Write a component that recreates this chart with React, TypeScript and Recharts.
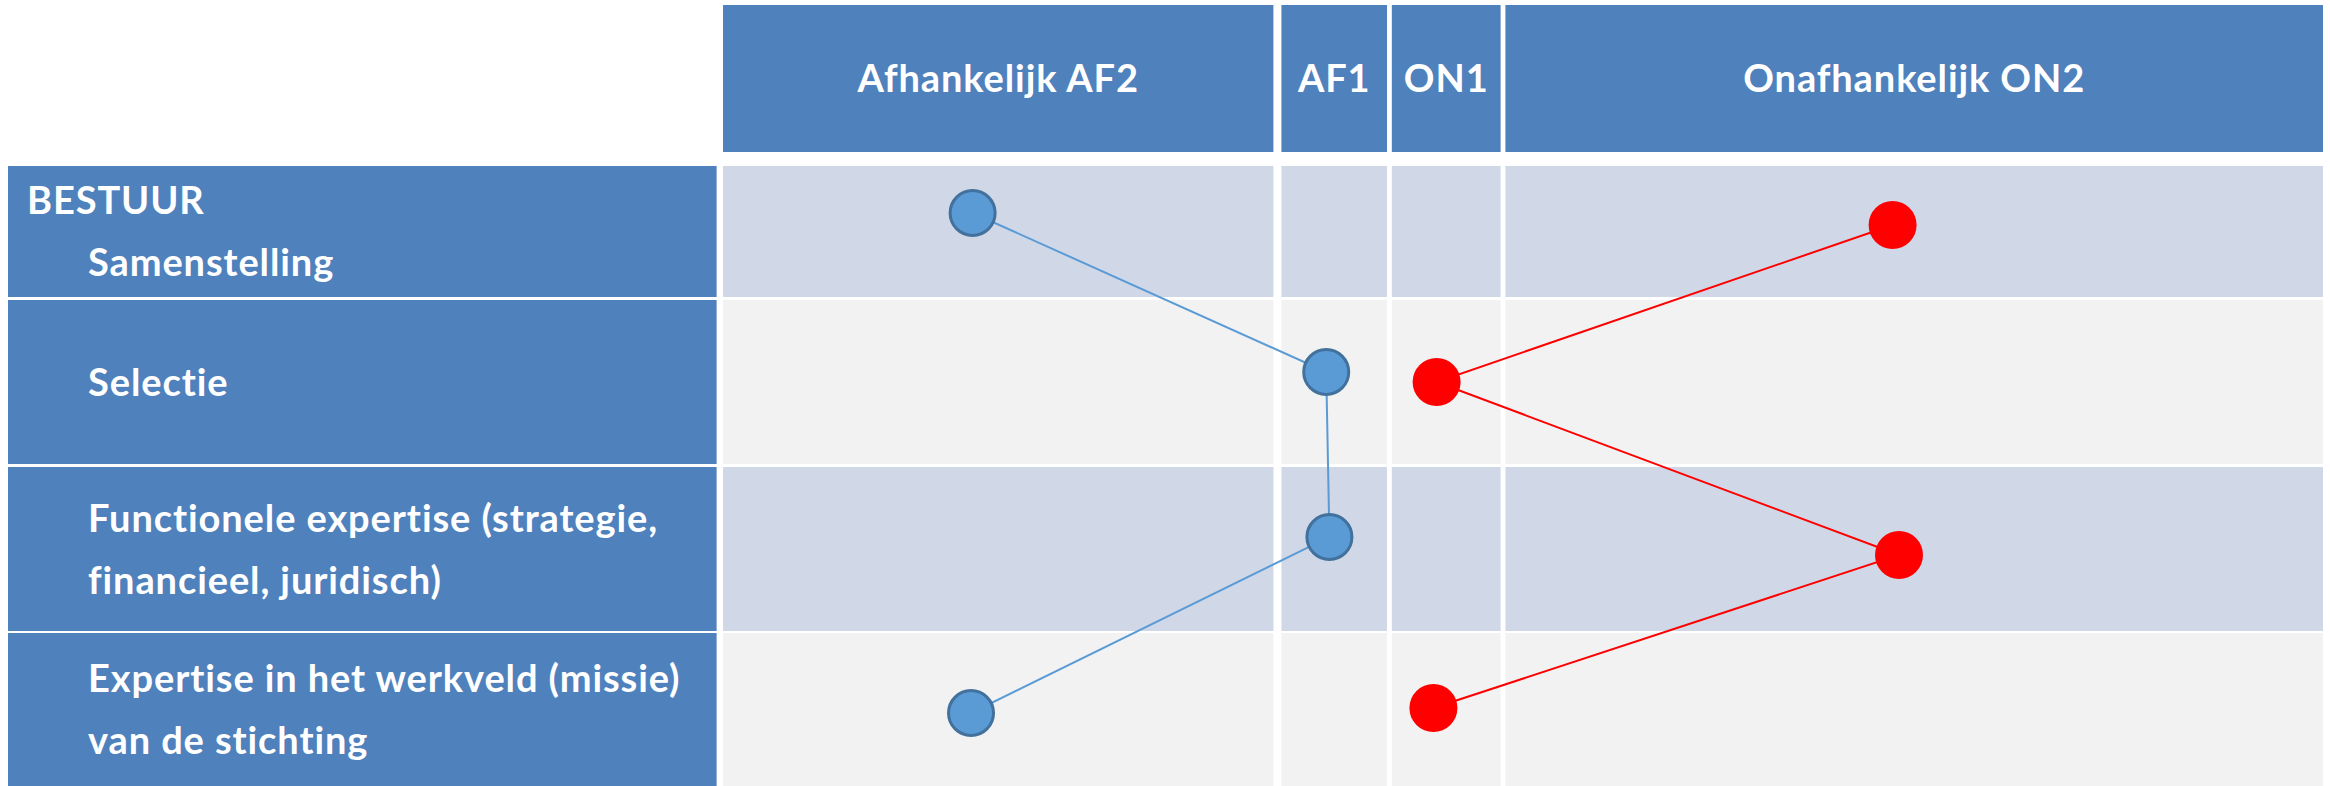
import React from "react";
import { ComposedChart, XAxis, YAxis, Scatter, ReferenceArea } from "recharts";

// ---- categories / labels ----
const columnLabels = ["Afhankelijk AF2", "AF1", "ON1", "Onafhankelijk ON2"];
// spans of each column on the horizontal position scale (0 = most dependent, 100 = most independent)
const columnFrom = [0, 34.9, 41.8, 48.9];
const columnTo = [34.4, 41.5, 48.6, 100];

const groupHeading = "BESTUUR";
const rowLabels = [
  ["BESTUUR", "Samenstelling"],
  ["Selectie"],
  ["Functionele expertise (strategie,", "financieel, juridisch)"],
  ["Expertise in het werkveld (missie)", "van de stichting"],
];
// spans of each row on the vertical scale
const rowFrom = [16.1, 29.5, 46.2, 62.8];
const rowTo = [29.2, 45.9, 62.6, 78.1];
const headerFrom = 0;
const headerTo = 14.7;
const labelColFrom = -44.69;
const labelColTo = -0.4;

// ---- series values ----
const afhankelijkX = [15.6, 37.7, 37.9, 15.5];
const afhankelijkY = [20.8, 36.7, 53.2, 70.8];
const onafhankelijkX = [73.1, 44.6, 73.5, 44.4];
const onafhankelijkY = [22.0, 37.7, 55.0, 70.3];

const afhankelijk = afhankelijkX.map((x, i) => ({ x, y: afhankelijkY[i] }));
const onafhankelijk = onafhankelijkX.map((x, i) => ({ x, y: onafhankelijkY[i] }));

const FONT = "Lato, 'Open Sans', sans-serif";
const FONT_SIZE = 38;
const LETTER = 0.9;
const CAP = 13.7;
const LINE_GAP = 62;
const BLUE = "#4F81BD";

const HeaderText = (props: any) => {
  const vb = props.viewBox || {};
  const cx = vb.x + vb.width / 2;
  const cy = vb.y + vb.height / 2;
  return (
    <text
      x={cx}
      y={cy + CAP}
      textAnchor="middle"
      fill="#FFFFFF"
      fontFamily={FONT}
      fontWeight={700}
      fontSize={FONT_SIZE}
      letterSpacing={LETTER}
    >
      {props.text}
    </text>
  );
};

const RowText = (props: any) => {
  const vb = props.viewBox || {};
  const lines: string[] = props.lines;
  const cy = vb.y + vb.height / 2;
  const first = cy - ((lines.length - 1) * LINE_GAP) / 2 + CAP;
  return (
    <g>
      {lines.map((l, i) => (
        <text
          key={i}
          x={vb.x + (l === groupHeading ? 19 : 80)}
          y={first + i * LINE_GAP}
          fill="#FFFFFF"
          fontFamily={FONT}
          fontWeight={700}
          fontSize={FONT_SIZE}
          letterSpacing={LETTER}
        >
          {l}
        </text>
      ))}
    </g>
  );
};

const BlueDot = (props: any) => (
  <circle cx={props.cx} cy={props.cy} r={22.5} fill="#5B9BD5" stroke="#41719C" strokeWidth={3} />
);
const RedDot = (props: any) => <circle cx={props.cx} cy={props.cy} r={24} fill="#FF0000" />;

export default function App() {
  return (
    <div style={{ position: "absolute", left: 0, top: 0, background: "#FFFFFF" }}>
      <ComposedChart
        width={2330}
        height={786}
        margin={{ top: 5, right: 7, bottom: 0, left: 8 }}
      >
        <XAxis type="number" dataKey="x" domain={[labelColFrom, 100]} hide allowDataOverflow />
        <YAxis type="number" dataKey="y" domain={[headerFrom, 78.1]} reversed hide allowDataOverflow />

        {columnLabels.map((c, i) => (
          <ReferenceArea
            key={"h" + i}
            x1={columnFrom[i]}
            x2={columnTo[i]}
            y1={headerFrom}
            y2={headerTo}
            fill={BLUE}
            fillOpacity={1}
            stroke="none"
            ifOverflow="visible"
            label={<HeaderText text={c} />}
          />
        ))}

        {rowLabels.map((lines, r) => (
          <ReferenceArea
            key={"l" + r}
            x1={labelColFrom}
            x2={labelColTo}
            y1={rowFrom[r]}
            y2={rowTo[r]}
            fill={BLUE}
            fillOpacity={1}
            stroke="none"
            ifOverflow="visible"
            label={<RowText lines={lines} />}
          />
        ))}

        {rowLabels.map((_, r) =>
          columnLabels.map((__, c) => (
            <ReferenceArea
              key={"c" + r + "-" + c}
              x1={columnFrom[c]}
              x2={columnTo[c]}
              y1={rowFrom[r]}
              y2={rowTo[r]}
              fill={r % 2 === 0 ? "#D0D8E8" : "#F2F2F2"}
              fillOpacity={1}
              stroke="none"
              ifOverflow="visible"
            />
          ))
        )}

        <Scatter
          name="Afhankelijk"
          data={afhankelijk}
          line={{ stroke: "#5B9BD5", strokeWidth: 2 }}
          lineType="joint"
          shape={BlueDot}
          isAnimationActive={false}
        />
        <Scatter
          name="Onafhankelijk"
          data={onafhankelijk}
          line={{ stroke: "#FF0000", strokeWidth: 2 }}
          lineType="joint"
          shape={RedDot}
          isAnimationActive={false}
        />
      </ComposedChart>
    </div>
  );
}
